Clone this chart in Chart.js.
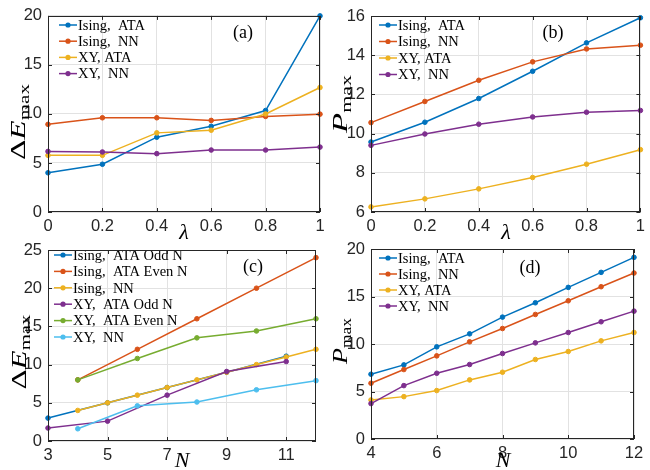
<!DOCTYPE html>
<html>
<head>
<meta charset="utf-8">
<script src="https://cdn.jsdelivr.net/npm/chart.js@4"></script>
<style>
  body { margin: 0; background: #fff; }
  #wrap { position: relative; width: 650px; height: 470px; }
  #wrap canvas { position: absolute; left: 0; top: 0; }
</style>
</head>
<body>
<div id="wrap">
  <canvas id="chartA" width="650" height="470"></canvas>
  <canvas id="chartB" width="650" height="470"></canvas>
  <canvas id="chartC" width="650" height="470"></canvas>
  <canvas id="chartD" width="650" height="470"></canvas>
</div>
<script>
// ---- data ----
const lambdaVals = [0, 0.2, 0.4, 0.6, 0.8, 1];

// (a) Delta E_max vs lambda
const aIsingATA = [4.0, 4.87, 7.63, 8.74, 10.35, 20.0];
const aIsingNN  = [8.94, 9.61, 9.61, 9.34, 9.75, 9.98];
const aXYATA    = [5.78, 5.78, 8.07, 8.34, 10.0, 12.7];
const aXYNN     = [6.18, 6.12, 5.95, 6.32, 6.32, 6.62];

// (b) P_max vs lambda
const bIsingATA = [9.57, 10.58, 11.79, 13.18, 14.63, 15.91];
const bIsingNN  = [10.56, 11.64, 12.72, 13.66, 14.32, 14.51];
const bXYATA    = [6.26, 6.67, 7.18, 7.76, 8.44, 9.18];
const bXYNN     = [9.40, 9.98, 10.48, 10.85, 11.09, 11.18];

// (c) Delta E_max vs N
const nOdd  = [3, 5, 7, 9, 11];
const nEven = [4, 6, 8, 10, 12];
const nAll  = [4, 5, 6, 7, 8, 9, 10, 11, 12];
const cIsingATAOdd  = [3, 5, 7, 9, 11.1];
const cIsingATAEven = [8, 12, 16, 20, 24];
const cIsingNN      = [4, 5, 6, 7, 8, 9, 10, 11, 12];
const cXYATAOdd     = [1.7, 2.6, 6.0, 9.1, 10.4];
const cXYATAEven    = [8, 10.8, 13.5, 14.4, 16];
const cXYNN         = [1.6, 4.6, 5.1, 6.7, 7.9];

// (d) P_max vs N
const dIsingATA = [6.82, 7.80, 9.70, 11.07, 12.83, 14.34, 15.96, 17.54, 19.12];
const dIsingNN  = [5.87, 7.31, 8.75, 10.23, 11.63, 13.11, 14.55, 16.03, 17.47];
const dXYATA    = [4.11, 4.46, 5.10, 6.22, 7.03, 8.37, 9.21, 10.33, 11.21];
const dXYNN     = [3.73, 5.62, 6.92, 7.84, 9.00, 10.12, 11.21, 12.34, 13.46];

// tick labels
const aXTicks = [0, 0.2, 0.4, 0.6, 0.8, 1];
const aYTicks = [0, 5, 10, 15, 20];
const bYTicks = [6, 8, 10, 12, 14, 16];
const cXTicks = [3, 5, 7, 9, 11];
const cYTicks = [0, 5, 10, 15, 20, 25];
const dXTicks = [4, 6, 8, 10, 12];
const dYTicks = [0, 5, 10, 15, 20];

// MATLAB default colours
const blue = '#0072BD', orange = '#D95319', yellow = '#EDB120',
      purple = '#7E2F8E', green = '#77AC30', cyan = '#4DBEEE';
const ink = '#262626';
const serif = '"Liberation Serif", "Times New Roman", serif';

function pts(xs, ys) {
    return xs.map((x, i) => ({ x: x, y: ys[i] }));
}

function series(label, color, xs, ys, i) {
    return {
        label: label,
        data: pts(xs, ys),
        borderColor: color,
        backgroundColor: color,
        pointBackgroundColor: color,
        borderWidth: 1.5,
        pointRadius: 2.3,
        pointBorderWidth: 1,
        tension: 0,
        clip: false,
        order: -i   // later series on top, like MATLAB
    };
}

// titles, legend, panel label, box and inward ticks
const panelPlugin = {
    id: 'panel',
    afterDatasetsDraw(chart, args, o) {
        const ctx = chart.ctx;
        ctx.save();
        // legend (transparent, inside axes)
        ctx.font = '14.5px ' + serif;
        ctx.textBaseline = 'middle';
        ctx.textAlign = 'left';
        chart.data.datasets.forEach((ds, i) => {
            const y = o.legend.y + i * o.legend.rowH;
            const x0 = o.legend.x, x1 = o.legend.x + o.legend.len;
            ctx.strokeStyle = ds.borderColor;
            ctx.lineWidth = 1.5;
            ctx.beginPath();
            ctx.moveTo(x0, y); ctx.lineTo(x1, y);
            ctx.stroke();
            ctx.fillStyle = ds.borderColor;
            ctx.beginPath();
            ctx.arc((x0 + x1) / 2, y, 2.6, 0, Math.PI * 2);
            ctx.fill();
            ctx.fillStyle = '#000';
            ctx.fillText(ds.label, x1 + 1, y + 1);
        });
        // panel label
        ctx.font = '18px ' + serif;
        ctx.textAlign = 'center';
        ctx.fillText(o.label.text, o.label.x, o.label.y);
        ctx.restore();
    },
    afterDraw(chart, args, o) {
        const ctx = chart.ctx, a = chart.chartArea;
        const xs = chart.scales.x, ys = chart.scales.y;
        ctx.save();
        ctx.strokeStyle = ink;
        ctx.lineWidth = 1;
        ctx.beginPath();
        xs.ticks.forEach(t => {
            const px = Math.round(xs.getPixelForValue(t.value)) + 0.5;
            ctx.moveTo(px, a.bottom); ctx.lineTo(px, a.bottom - 4);
            ctx.moveTo(px, a.top); ctx.lineTo(px, a.top + 4);
        });
        ys.ticks.forEach(t => {
            const py = Math.round(ys.getPixelForValue(t.value)) + 0.5;
            ctx.moveTo(a.left, py); ctx.lineTo(a.left + 4, py);
            ctx.moveTo(a.right, py); ctx.lineTo(a.right - 4, py);
        });
        ctx.stroke();
        ctx.strokeRect(Math.round(a.left) + 0.5, Math.round(a.top) + 0.5,
                       Math.round(a.width) - 1, Math.round(a.height) - 1);

        // x title
        ctx.fillStyle = '#000';
        ctx.font = 'italic 22px ' + serif;
        ctx.textAlign = 'center';
        ctx.textBaseline = 'middle';
        ctx.fillText(o.xTitle.text, o.xTitle.x, o.xTitle.y);

        // y title, rotated, with subscript
        const yt = o.yTitle;
        let w = 0;
        yt.parts.forEach(p => { ctx.font = p.font; p.w = ctx.measureText(p.text).width; w += p.w; });
        const s = yt.len / w;
        ctx.translate(yt.x, yt.y);
        ctx.rotate(-Math.PI / 2);
        ctx.scale(s, 1);
        ctx.textAlign = 'left';
        ctx.textBaseline = 'alphabetic';
        let cx = -w / 2;
        yt.parts.forEach(p => {
            ctx.font = p.font;
            ctx.fillText(p.text, cx, p.dy || 0);
            cx += p.w;
        });
        ctx.restore();
    }
};

const deltaE = [
    { text: '\u0394', font: '21px ' + serif },
    { text: 'E', font: 'italic 21px ' + serif },
    { text: 'max', font: '14px ' + serif, dy: 4 }
];
const pMax = [
    { text: 'P', font: 'italic 21px ' + serif },
    { text: 'max', font: '14px ' + serif, dy: 4 }
];

function axis(ticks, min, max, fixed, isX) {
    return {
        type: 'linear',
        min: min,
        max: max,
        afterBuildTicks: s => { s.ticks = ticks.map(v => ({ value: v })); },
        afterFit: s => { if (isX) s.height = fixed; else s.width = fixed; },
        grid: { color: '#e2e2e2', drawTicks: false },
        border: { display: false },
        ticks: {
            autoSkip: false,
            maxRotation: 0,
            padding: isX ? 5 : 6,
            color: ink,
            font: { family: '"Liberation Sans", Arial, sans-serif', size: 16.5 },
            callback: v => String(+v.toFixed(2))
        }
    };
}

// box = plot area in page pixels
function makeChart(id, datasets, box, xs, ys, panel) {
    const yW = 40, xH = 25;
    return new Chart(document.getElementById(id).getContext('2d'), {
        type: 'line',
        data: { datasets: datasets },
        options: {
            responsive: false,
            devicePixelRatio: 1,
            animation: false,
            events: [],
            layout: {
                padding: {
                    left: box.l - yW,
                    top: box.t,
                    right: 650 - box.r,
                    bottom: 470 - box.b - xH
                }
            },
            scales: {
                x: axis(xs.ticks, xs.min, xs.max, xH, true),
                y: axis(ys.ticks, ys.min, ys.max, yW, false)
            },
            plugins: {
                legend: { display: false },
                tooltip: { enabled: false },
                panel: panel
            }
        },
        plugins: [panelPlugin]
    });
}

makeChart('chartA', [
    series('Ising,  ATA', blue, lambdaVals, aIsingATA, 0),
    series('Ising,  NN', orange, lambdaVals, aIsingNN, 1),
    series('XY, ATA', yellow, lambdaVals, aXYATA, 2),
    series('XY,  NN', purple, lambdaVals, aXYNN, 3)
], { l: 48, t: 14, r: 320, b: 212 },
   { ticks: aXTicks, min: 0, max: 1 }, { ticks: aYTicks, min: 0, max: 20 }, {
    label: { text: '(a)', x: 243, y: 33 },
    legend: { x: 59, y: 25, rowH: 16.2, len: 18 },
    xTitle: { text: '\u03BB', x: 184, y: 233 },
    yTitle: { parts: deltaE, x: 25, y: 122, len: 76 }
});

makeChart('chartB', [
    series('Ising,  ATA', blue, lambdaVals, bIsingATA, 0),
    series('Ising,  NN', orange, lambdaVals, bIsingNN, 1),
    series('XY, ATA', yellow, lambdaVals, bXYATA, 2),
    series('XY,  NN', purple, lambdaVals, bXYNN, 3)
], { l: 371, t: 16, r: 641, b: 212 },
   { ticks: aXTicks, min: 0, max: 1 }, { ticks: bYTicks, min: 6, max: 16 }, {
    label: { text: '(b)', x: 553, y: 33 },
    legend: { x: 379, y: 25, rowH: 16.5, len: 18 },
    xTitle: { text: '\u03BB', x: 506, y: 233 },
    yTitle: { parts: pMax, x: 347, y: 104, len: 58 }
});

makeChart('chartC', [
    series('Ising,  ATA Odd N', blue, nOdd, cIsingATAOdd, 0),
    series('Ising,  ATA Even N', orange, nEven, cIsingATAEven, 1),
    series('Ising,  NN', yellow, nAll, cIsingNN, 2),
    series('XY,  ATA Odd N', purple, nOdd, cXYATAOdd, 3),
    series('XY,  ATA Even N', green, nEven, cXYATAEven, 4),
    series('XY,  NN', cyan, nEven, cXYNN, 5)
], { l: 48, t: 250, r: 316, b: 441 },
   { ticks: cXTicks, min: 3, max: 12 }, { ticks: cYTicks, min: 0, max: 25 }, {
    label: { text: '(c)', x: 253, y: 267 },
    legend: { x: 54, y: 255, rowH: 16.4, len: 18 },
    xTitle: { text: 'N', x: 182, y: 461 },
    yTitle: { parts: deltaE, x: 26, y: 352, len: 75 }
});

makeChart('chartD', [
    series('Ising,  ATA', blue, nAll, dIsingATA, 0),
    series('Ising,  NN', orange, nAll, dIsingNN, 1),
    series('XY, ATA', yellow, nAll, dXYATA, 2),
    series('XY,  NN', purple, nAll, dXYNN, 3)
], { l: 371, t: 249, r: 634, b: 439 },
   { ticks: dXTicks, min: 4, max: 12 }, { ticks: dYTicks, min: 0, max: 20 }, {
    label: { text: '(d)', x: 530, y: 268 },
    legend: { x: 379, y: 258, rowH: 16, len: 18 },
    xTitle: { text: 'N', x: 503, y: 461 },
    yTitle: { parts: pMax, x: 347, y: 341, len: 46 }
});
</script>
</body>
</html>
